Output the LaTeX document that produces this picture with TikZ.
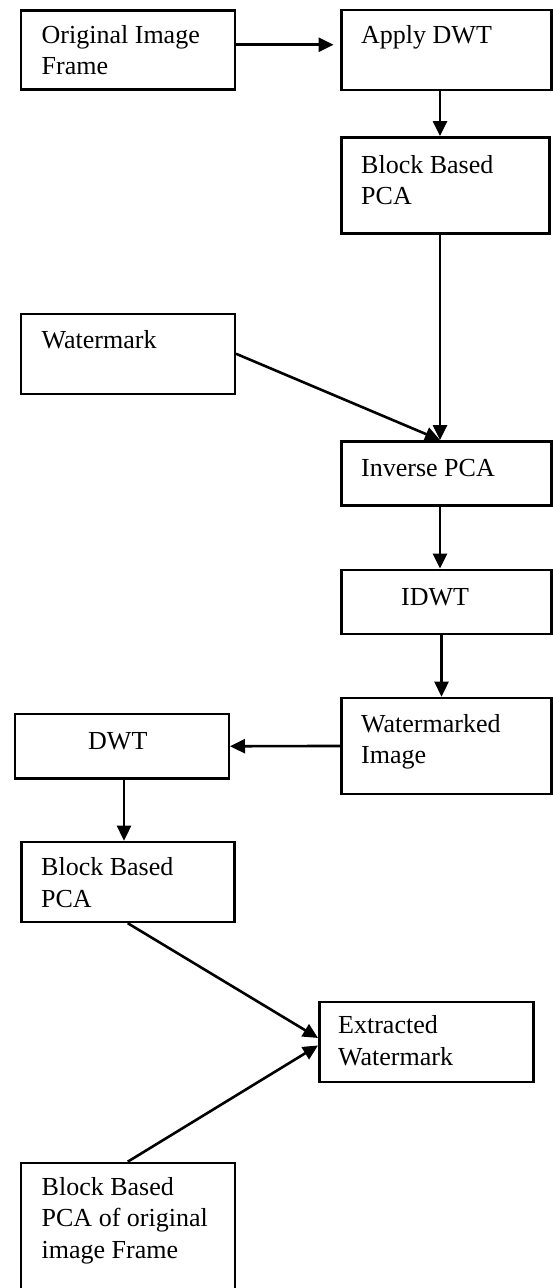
\documentclass[tikz,border=0pt]{standalone}
\usepackage{fontspec}
\setmainfont{Liberation Serif}
\usetikzlibrary{arrows.meta}

\begin{document}
\begin{tikzpicture}[x=1pt,y=-1pt,
    blk/.style={draw,line width=2.5pt,anchor=north west,inner sep=0pt},
    lbl/.style={anchor=base west,inner sep=0pt,align=left,font=\fontsize{26}{31.5}\selectfont},
    arr/.style={line width=2.6pt,-{Triangle[length=15pt,width=14pt]}}]
  \useasboundingbox (0,0) rectangle (552,1288);

  % embedding side (base of multi-line text is its last line)
  \node[blk,minimum width=214pt,minimum height=79pt] (orig) at (19.5,9) {};
  \node[lbl] (origtxt) at ([shift={(22,65.8)}]orig.north west) {Original Image\\Frame};
  \node[blk,minimum width=210pt,minimum height=80pt] (apply) at (340,8.5) {};
  \node[lbl] (applytxt) at ([shift={(21,34.8)}]apply.north west) {Apply DWT};
  \node[blk,minimum width=208pt,minimum height=96pt] (bpca) at (340,136) {};
  \node[lbl] (bpcatxt) at ([shift={(21,68.5)}]bpca.north west) {Block Based\\PCA};
  \node[blk,minimum width=214pt,minimum height=80pt] (wm) at (19.5,312.5) {};
  \node[lbl] (wmtxt) at ([shift={(22,35.8)}]wm.north west) {Watermark};
  \node[blk,minimum width=210pt,minimum height=64pt] (ipca) at (340,440) {};
  \node[lbl] (ipcatxt) at ([shift={(21,36.7)}]ipca.north west) {Inverse PCA};
  \node[blk,minimum width=210pt,minimum height=64pt] (idwt) at (340,568.5) {};
  \node[lbl] (idwttxt) at ([shift={(61,36.5)}]idwt.north west) {IDWT};
  \node[blk,minimum width=210pt,minimum height=96pt] (wmimg) at (340,696.7) {};
  \node[lbl] (wmimgtxt) at ([shift={(21,67)}]wmimg.north west) {Watermarked\\Image};

  % extraction side
  \node[blk,minimum width=214pt,minimum height=64.6pt] (dwt) at (13.5,712.7) {};
  \node[lbl] (dwttxt) at ([shift={(74.5,36.6)}]dwt.north west) {DWT};
  \node[blk,minimum width=213pt,minimum height=80pt] (bpcb) at (20,840.7) {};
  \node[lbl] (bpcbtxt) at ([shift={(21,66.3)}]bpcb.north west) {Block Based\\PCA};
  \node[blk,minimum width=214pt,minimum height=80pt] (extr) at (318,1000.7) {};
  \node[lbl] (extrtxt) at ([shift={(20,64.5)}]extr.north west) {Extracted\\Watermark};
  \node[blk,minimum width=214pt,minimum height=140pt] (bpco) at (19.5,1161.7) {};
  \node[lbl] (bpcotxt) at ([shift={(22,96.6)}]bpco.north west) {Block Based\\PCA of original\\image Frame};

  \coordinate (rc) at (440,0);
  \coordinate (rd) at (441.5,0);
  \coordinate (lc) at (124,0);
  \coordinate (top) at ([yshift=5pt]orig.east);

  \draw[arr] (top) -- ([xshift=-6.5pt]top -| apply.west);
  \draw[arr] (apply.south -| rc) -- (bpca.north -| rc);
  \draw[arr] (bpca.south -| rc) -- (ipca.north -| rc);
  \draw[arr] (wm.east) -- (ipca.north -| rc);
  \draw[arr] (ipca.south -| rc) -- (idwt.north -| rc);
  \draw[arr] (idwt.south -| rd) -- (wmimg.north -| rd);
  \draw[arr] (wmimg.west) -- (dwt.east);
  \draw[arr] (dwt.south -| lc) -- (bpcb.north -| lc);
  \draw[arr] (bpcb.south) -- ([yshift=4pt]extr.west);
  \draw[arr] (bpco.north) -- ([yshift=-3.5pt]extr.west);
\end{tikzpicture}
\end{document}
